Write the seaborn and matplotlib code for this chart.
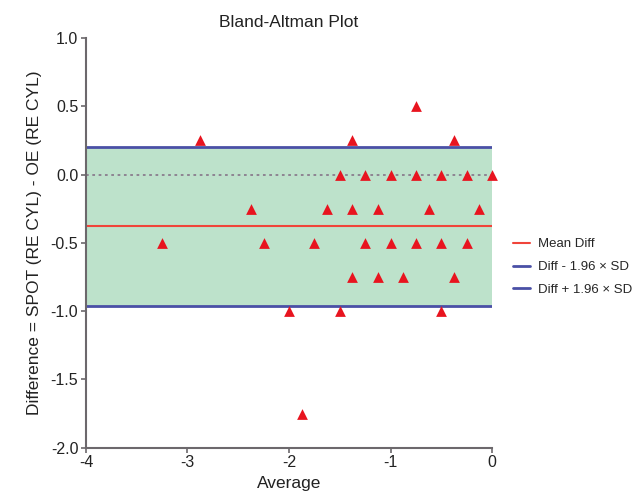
import numpy as np
import pandas as pd
import matplotlib
matplotlib.use("Agg")
import matplotlib.pyplot as plt
import seaborn as sns

# Data
average = [-3.25, -2.875, -2.375, -2.25, -2.0, -1.875, -1.75, -1.625, -1.5, -1.5,
           -1.375, -1.375, -1.375, -1.25, -1.25, -1.125, -1.125, -1.0, -1.0, -0.875,
           -0.75, -0.75, -0.75, -0.625, -0.5, -0.5, -0.5, -0.375, -0.375, -0.25,
           -0.25, -0.125, 0.0]
difference = [-0.5, 0.25, -0.25, -0.5, -1.0, -1.75, -0.5, -0.25, 0.0, -1.0,
              0.25, -0.25, -0.75, 0.0, -0.5, -0.25, -0.75, 0.0, -0.5, -0.75,
              0.5, 0.0, -0.5, -0.25, 0.0, -0.5, -1.0, 0.25, -0.75, 0.0,
              -0.5, -0.25, 0.0]
mean_diff = -0.38
lower_loa = -0.965
upper_loa = 0.20
legend_labels = ["Mean Diff", "Diff - 1.96 \u00d7 SD", "Diff + 1.96 \u00d7 SD"]
x_ticks = [-4, -3, -2, -1, 0]
y_ticks = [1.0, 0.5, 0.0, -0.5, -1.0, -1.5, -2.0]

sns.set_theme(style="white")
plt.rcParams['font.family'] = ['Liberation Sans', 'DejaVu Sans']
plt.rcParams['axes.unicode_minus'] = False

df = pd.DataFrame({"Average": average, "Difference": difference})

fig = plt.figure(figsize=(6.44, 5.03), dpi=100)
ax = fig.add_axes([0.1335, 0.110, 0.6305, 0.8145])

axis_col = "#6c686c"
ax.axhspan(lower_loa, upper_loa, xmin=0, xmax=1, color="#bde2cb", zorder=0, lw=0)
ax.axhline(0, color="#8a7d8e", lw=1.3, ls=(0, (1.5, 2.0)), zorder=1)
ax.axhline(mean_diff, color="#f0443a", lw=1.5, zorder=2, label=legend_labels[0])
ax.axhline(lower_loa, color="#4a50a6", lw=2.0, zorder=2, label=legend_labels[1])
ax.axhline(upper_loa, color="#4a50a6", lw=2.0, zorder=2, label=legend_labels[2])

sns.scatterplot(data=df, x="Average", y="Difference", ax=ax, marker="^",
                color="#e8141f", s=60, linewidth=0, zorder=3, legend=False,
                clip_on=False)

ax.set_xlim(-4, 0)
ax.set_ylim(-2.0, 1.0)
ax.set_xticks(x_ticks)
ax.set_xticklabels([str(t) for t in x_ticks])
ax.set_yticks(y_ticks)
ax.set_yticklabels([f"{t:.1f}" for t in y_ticks])

for s in ["top", "right"]:
    ax.spines[s].set_visible(False)
for s in ["left", "bottom"]:
    ax.spines[s].set_color(axis_col)
    ax.spines[s].set_linewidth(1.5)
ax.tick_params(axis="both", direction="out", length=3.5, width=1.2,
               color=axis_col, labelsize=11.5, labelcolor="#222222", pad=2,
               left=True, bottom=True)

ax.set_title("Bland-Altman Plot", fontsize=12.5, color="#222222", pad=8)
ax.set_xlabel("Average", fontsize=12.5, color="#222222", labelpad=4)
ax.set_ylabel("Difference = SPOT (RE CYL) - OE (RE CYL)", fontsize=12.5,
              color="#222222", labelpad=6)

handles, labels = ax.get_legend_handles_labels()
fig.legend(handles, labels, loc="center left", bbox_to_anchor=(0.797, 0.469),
           frameon=False, fontsize=9.5, handlelength=1.3, handletextpad=0.6,
           labelspacing=0.8, borderpad=0, borderaxespad=0)

fig.savefig("out.png", dpi=100)
